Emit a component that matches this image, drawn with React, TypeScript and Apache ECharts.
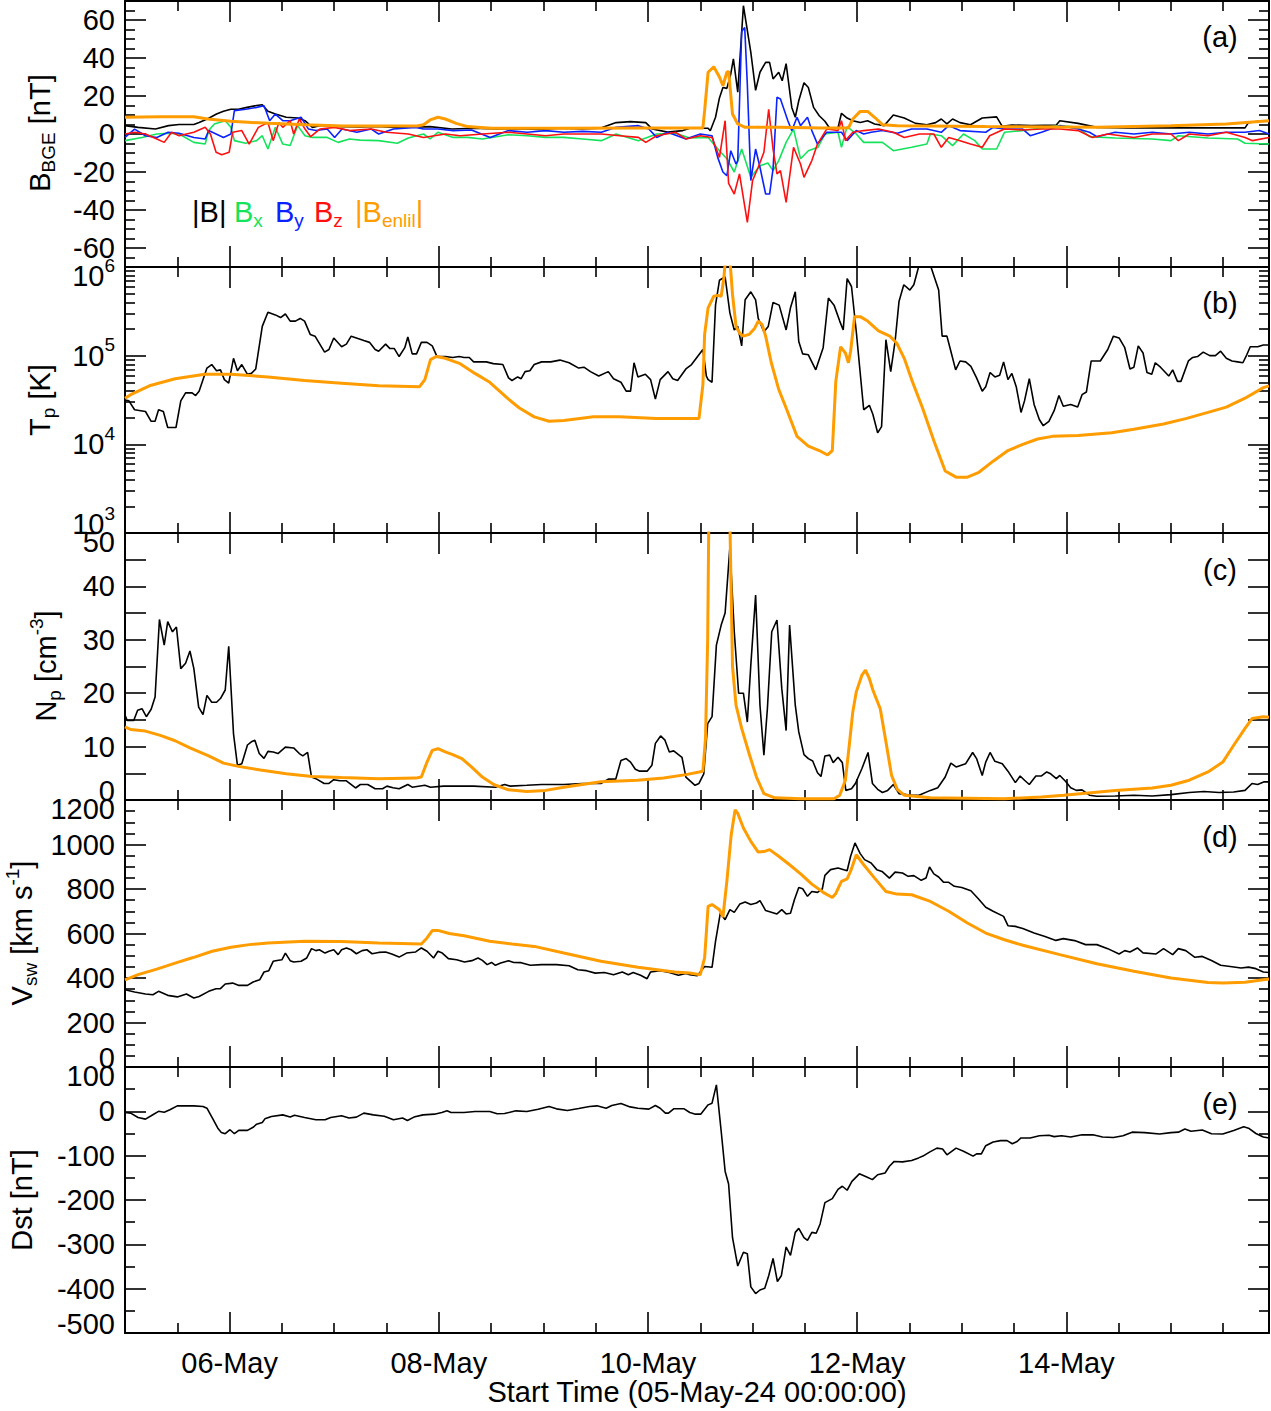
import React, { useEffect, useRef } from 'react';
import * as echarts from 'echarts';

const FONT = "'Liberation Sans', Arial, Helvetica, sans-serif";
const T_MAX = 262.5; // hours after 05-May-24 00:00

// ---- x axis ticks / labels (hours) ----
const dayMajorTicks = [24, 72, 120, 168, 216];
const dayLabels = ['06-May', '08-May', '10-May', '12-May', '14-May'];
const dayMinorTicks = [12, 36, 48, 60, 84, 96, 108, 132, 144, 156, 180, 192, 204, 228, 240, 252];

// ---- y axis ticks / labels ----
const bLabels = [-60, -40, -20, 0, 20, 40, 60];
const bMinor = [-65, -55, -50, -45, -35, -30, -25, -15, -10, -5, 5, 10, 15, 25, 30, 35, 45, 50, 55, 65];
const tExponents = [3, 4, 5, 6];
const tMinorFactors = [2, 3, 4, 5, 6, 7, 8, 9];
const nLabels = [0, 10, 20, 30, 40, 50];
const nTicks = [5, 10, 15, 20, 25, 30, 35, 40, 45];
const vLabels = [0, 200, 400, 600, 800, 1000, 1200];
const vMinor = [50, 100, 150, 250, 300, 350, 450, 500, 550, 650, 700, 750, 850, 900, 950, 1050, 1100, 1150];
const dstLabels = [-500, -400, -300, -200, -100, 0, 100];
const dstMinor = [-450, -350, -250, -150, -50, 50];

// ---- panel (a): magnetic field [nT], [hour, value] ----
const bTotal = [[0,4.4],[3,3.5],[7,2.6],[10,4.4],[12.4,5],[15.8,5],[17,6],[19,8],[21,10.5],[22.6,12],[24.3,13],[26,13],[28,14],[30.2,15],[31.5,15.4],[32.8,12],[34.5,10.5],[37,8.8],[39.6,8.4],[41.3,7],[43,3.5],[44.7,4.4],[46.4,4.4],[49.8,3.9],[54,3.7],[58,4],[62,3.5],[67,3.7],[70,3.9],[75,2.6],[80,3],[85,2.6],[90,2.8],[95,2.4],[100,3],[105,2.6],[109,3],[112.7,6],[116,6.5],[119.5,6],[121,2.6],[124.5,1],[128,1.8],[129.6,3],[132,3],[133.8,3],[134.3,1.7],[135.5,8.8],[136.4,19],[137.2,24.5],[138.1,24],[139,31.6],[139.6,39.5],[140.6,22],[141.9,67.5],[143.6,43],[144.7,23],[145.7,32.5],[147,37.7],[147.9,37.7],[148.7,29],[150,32.5],[150.8,28],[151.7,37],[153,14],[153.8,8.8],[154.6,17.5],[155.8,27],[156.8,24.5],[158,14],[159.3,9.6],[160.6,6.7],[161.7,3],[163.6,3.2],[164.4,10.9],[165.7,8.4],[167,7],[168.7,6],[170.4,7],[172,5.3],[174.2,4.4],[176.3,10],[178.8,8.4],[181.4,5.6],[184,4.9],[186,6],[187.3,7.9],[188.6,5.3],[189.9,7.9],[191.6,6],[194,4.9],[196.7,8.4],[200,9],[201.3,4],[203.5,4.7],[208,4.5],[213.7,4.7],[214.5,7],[218.7,5.6],[223,3.5],[230,3.2],[240,3.2],[250,3.2],[257,3.2],[257.8,6],[261,7],[262.5,7]];
const bX = [[0,-3.5],[3.9,-1.8],[7.3,0],[9.9,0.4],[12.4,0],[15.8,-4.4],[18.4,-5.3],[19.2,1.8],[20.5,5.3],[23,7],[24.3,3.5],[25.1,-3.5],[27.7,-4.9],[30.2,-3.5],[31.5,-0.9],[32.8,-7.9],[34.5,3.5],[36.2,-5.3],[37.9,-6.1],[39.6,4.4],[41.3,-0.9],[43,-1.8],[46.4,-1.8],[48.9,-4.4],[51.5,-2.6],[54,-3.2],[58.2,-3.5],[62.5,-4.9],[65,-2.1],[68.5,0],[70,-2.6],[71.8,0.9],[75.3,-1.8],[78.6,-1.8],[82,-2.6],[88,-0.4],[92.3,-0.9],[96.5,-1.8],[100.7,-1.8],[105,-2.6],[109.3,-3.5],[112.7,0],[117.8,-3.5],[122,0],[126.3,0.4],[129.6,-2.1],[133.8,-1.8],[136.4,-8.8],[138.1,-13],[139.8,-20],[141.5,-7.9],[143.6,-22.8],[145.7,-16.7],[147.5,-15.3],[148.7,-19.3],[150,-14],[151.7,-4.4],[153.4,2.6],[155,-13],[156.8,-8.8],[159,-7],[160.6,0],[163.6,0.9],[164.4,-7],[165.7,3.9],[167.8,0],[169.5,-4.4],[173.8,-4.4],[176.3,-8.8],[180.5,-7],[184,-5.3],[184.8,0],[187.3,-0.9],[189.9,-6.1],[192.4,0],[195,-3.5],[196.7,-7.9],[200,-7.9],[201.8,0.9],[206,1.8],[210.3,3.2],[214.5,4.4],[218.7,3.5],[221.3,-1.4],[227.2,-2.1],[235.7,-2.6],[240,-3.5],[241.7,-0.9],[248.5,-2.1],[255.3,-2.6],[257,-4.9],[262.5,-5.3]];
const bY = [[0,-1.8],[2.2,2.6],[4.7,-0.9],[7.3,-1.8],[9.9,0.9],[12.4,0.4],[15.8,-1.8],[18.4,-2.6],[19.2,1.8],[20.9,0],[22.6,-1.8],[24.3,0],[25.1,12.3],[27.7,13],[30.2,14],[31.9,14.9],[33.2,7],[34.5,10.5],[36.2,7],[37.9,7],[40.4,8.8],[42.1,2.6],[43.8,1.8],[46.4,2.6],[48.1,-1.8],[49.8,2.6],[53.2,0.9],[56.5,2.6],[58.2,0],[61.6,2.6],[66.7,3.5],[68.5,2.6],[71.8,2.6],[75.3,1.8],[79.5,2.1],[83.8,-1.8],[88,1.8],[92.3,0.9],[96.5,1.8],[100.7,0.9],[105,1.4],[109.3,0.9],[112.7,3.5],[117.8,4.4],[120.2,2.6],[122,-1.8],[124.5,0.9],[128.7,-2.6],[132,0],[134.7,-0.9],[136,-12.3],[137.2,-20],[138.1,-22],[139,-8.8],[140.2,-15.8],[140.6,-14],[141.5,54],[142.2,56],[142.8,26],[143.6,-24.5],[144.7,-7.9],[145.7,-17.5],[147,-31.6],[147.9,-31.6],[148.7,-18.4],[149.6,19.3],[150.4,18.4],[152.1,7],[153,1.8],[154.2,8.8],[155,4.4],[156.6,8.8],[157.6,1.8],[158.9,-5.3],[161,0.9],[164.4,0.9],[165.7,-3.5],[167.8,1.8],[169.5,0],[171.2,0.9],[173.8,1.8],[177.2,0.4],[180.5,2.6],[184,2.6],[187.3,0.9],[189,4.4],[191.6,1.8],[197.5,0.9],[199.2,3.5],[201.8,2.6],[206,2.6],[207.7,-0.9],[210.3,0.9],[214.5,4.4],[218.7,2.6],[221.3,0.9],[223,-1.4],[227.2,0.9],[231.5,0],[235.7,0.9],[240,0],[244.2,0.9],[248.5,0],[252.7,0.9],[257,0.9],[260.3,1.8],[262.5,0]];
const bZ = [[0,0],[2.2,0.9],[4.7,0],[7.3,-2.6],[9,-4.4],[10.7,0.9],[12.4,-0.9],[15.8,0.9],[18.4,3.5],[19.6,0],[20.9,-9.6],[22.2,-10.9],[23.9,-9.6],[24.7,0.9],[26.8,1.8],[28.5,-5.3],[30.6,3.5],[32.8,6],[34,-3.5],[35.3,6],[36.2,3.5],[37.9,7],[38.7,0],[40,7.9],[41.3,2.6],[42.6,-1.4],[44.7,2.6],[48.1,3.5],[51.5,1.8],[56.5,2.6],[60,0.9],[65,0],[68.5,-1.8],[73.5,0],[76.9,-0.9],[82,0],[88,0.9],[92.3,0],[96.5,-0.9],[100.7,0],[105,0],[109.3,0],[113.5,-0.9],[117.8,-1.8],[119.5,-4.4],[122,-0.9],[126.3,0.9],[128.7,-2.6],[132,-0.9],[134.7,-1.8],[136.4,-12.3],[137.7,7],[138.5,-26],[139.8,-31.6],[141,-21],[142.8,-46.5],[144,-24.5],[145.3,-17.5],[146.6,-9.6],[147.7,13],[148.7,-7.9],[149.6,-21],[150.4,-19.3],[151.7,-36],[153.4,-7],[155,-15.8],[155.8,-22.8],[157.6,-14],[158.9,-5.3],[161,2.6],[163.6,1.8],[164.4,7],[165.3,-3.5],[167,0.9],[169.5,1.8],[172.9,2.6],[176.3,0.9],[178.8,-1.8],[182.3,0],[185.6,0],[187.3,-7],[189,-1.8],[191.6,-3.5],[194,-5.3],[196.7,-7],[198.4,-0.9],[201.8,2.6],[206,2.1],[210.3,2.6],[214.5,2.6],[218.7,1.8],[222,-1.8],[225.5,0],[231.5,-1.8],[235.7,0],[240,0],[241.7,-3.5],[244.2,0],[248.5,-0.9],[252.7,0.9],[257,-1.8],[258.7,-3.5],[262.5,-1.8]];
const bEnlil = [[0,8.8],[8,9.1],[15.8,9.1],[19,7.9],[24.3,6.7],[33,5.6],[41.3,4.9],[50,4.2],[60,4.2],[67,4.2],[68.5,4.9],[70,7.4],[71.8,8.8],[73.5,7.9],[76,5.6],[78.6,3.9],[84,3],[100,3],[120,3.1],[132.6,3.2],[133,12.3],[133.8,32.5],[135.1,35.4],[136.4,30],[137.2,25.4],[138.1,32.5],[138.5,33],[139.4,10.5],[140.6,5.3],[142.3,3.5],[150,3.5],[160,3.2],[166,3.2],[167,7.9],[168.7,11.9],[170.4,11.9],[172,8.8],[173.8,4.9],[177.2,4.4],[197.5,3.9],[223,3.5],[240,4.4],[252.7,5.3],[262.5,7]];

// ---- panel (b): proton temperature, log10(T [K]) ----
const tpObsLog = [[0,4.5],[0.9,4.49],[2.2,4.39],[4.7,4.37],[6,4.26],[6.9,4.26],[7.7,4.39],[8.8,4.37],[9.8,4.19],[11.7,4.19],[12.8,4.49],[13.9,4.58],[15.4,4.58],[16.2,4.55],[17,4.6],[18.8,4.86],[19.9,4.9],[21,4.83],[21.9,4.84],[22.8,4.73],[23.8,4.69],[24.9,4.97],[25.8,4.83],[26.8,4.9],[28.1,4.79],[29,4.8],[30,4.85],[31.5,5.33],[32.8,5.49],[34.5,5.46],[35.7,5.43],[36.8,5.47],[37.9,5.39],[39.1,5.39],[40.2,5.42],[41.2,5.39],[42.5,5.24],[43.6,5.22],[45.8,5.04],[46.8,5.07],[47.9,5.2],[49.7,5.1],[50.8,5.13],[51.9,5.22],[53.1,5.2],[54.8,5.17],[56.1,5.15],[57.4,5.07],[58.2,5.05],[59.8,5.13],[60.8,5.08],[61.8,5.08],[62.9,4.99],[64.2,5.09],[64.9,5.21],[65.9,5.02],[66.9,5.02],[68,5.15],[69.3,5.15],[70.5,5.11],[71.6,4.99],[73.5,4.99],[75.2,4.98],[76.7,4.99],[77.8,4.98],[79,4.98],[80,4.93],[82.9,4.93],[84.5,4.91],[86.7,4.9],[88,4.75],[88.8,4.72],[90.1,4.76],[90.9,4.74],[91.8,4.82],[92.9,4.83],[93.9,4.9],[95.6,4.93],[97.7,4.93],[99.8,4.95],[101.9,4.92],[104.1,4.86],[105.3,4.87],[106.8,4.82],[108.7,4.77],[110.9,4.82],[112.1,4.74],[113.8,4.7],[115,4.6],[116,4.6],[116.8,4.92],[117.7,4.76],[119.4,4.79],[120.6,4.73],[121.7,4.51],[122.8,4.73],[124.6,4.82],[125.7,4.74],[126.8,4.72],[128.7,4.85],[130,4.9],[132.6,5.07],[133.4,4.77],[133.8,4.73],[134.7,4.7],[135.5,5.57],[136.4,5.85],[137.7,5.89],[138.8,5.48],[139.8,5.29],[140.6,5.33],[141.5,5.11],[142.3,5.63],[143.6,5.72],[144.7,5.63],[145.3,5.42],[146.6,5.27],[147.6,5.33],[148.7,5.6],[150.1,5.57],[151.7,5.29],[152.7,5.54],[153.8,5.72],[154.6,5.16],[155.5,5.02],[156.8,5.01],[158.5,4.84],[160.2,5.09],[161.4,5.65],[162.7,5.57],[164,5.39],[164.8,5.29],[165.7,5.87],[166.7,5.78],[167.8,5.27],[169.5,4.39],[170.8,4.44],[171.6,4.34],[172.7,4.13],[173.6,4.2],[174.6,5.18],[175.7,4.82],[176.7,5.16],[177.6,5.61],[178.7,5.8],[180.1,5.74],[181,5.8],[182.2,6.02],[184.8,6.02],[186.7,5.74],[187.5,5.22],[188.6,5.22],[189.5,5.05],[190.6,4.84],[191.6,4.94],[192.9,4.93],[194.1,4.88],[195.4,4.75],[196.7,4.6],[197.5,4.65],[198.5,4.81],[199.6,4.76],[200.7,4.78],[201.6,4.93],[202.6,4.73],[203.5,4.8],[204.5,4.65],[205.6,4.36],[206.4,4.49],[207.5,4.74],[208.6,4.45],[209.8,4.28],[210.7,4.21],[212,4.26],[213.2,4.38],[214.3,4.55],[215.3,4.43],[217,4.45],[218.6,4.42],[219.6,4.56],[220.6,4.59],[221.7,4.94],[223,4.94],[223.8,4.94],[225.5,5.07],[226.8,5.22],[228.1,5.2],[229.4,5.09],[230.6,4.85],[231.5,4.87],[232.5,5.11],[233.6,5.03],[234.5,4.81],[235.6,4.79],[236.4,4.92],[237.6,4.87],[239.5,4.77],[240.4,4.84],[241.5,4.71],[242.3,4.71],[244,4.94],[245,4.98],[246.1,4.99],[247.4,5.04],[248.9,5],[250.2,5],[251.4,5.05],[252.7,4.97],[254,4.94],[255.3,4.93],[256.5,4.92],[257.4,5.01],[258.2,5.1],[259.9,5.1],[261.2,5.12],[262.5,5.12]];
const tpEnlilLog = [[0,4.52],[1.3,4.56],[5.6,4.66],[11.5,4.74],[18.3,4.79],[24.3,4.79],[32.8,4.76],[41.2,4.72],[49.7,4.69],[58.2,4.66],[67.6,4.65],[68.8,4.73],[70.1,4.955],[71.4,4.99],[73.5,4.97],[76.9,4.91],[80.3,4.8],[83.7,4.7],[88,4.51],[90.5,4.41],[93.9,4.31],[97.3,4.26],[100.7,4.27],[107.5,4.31],[113.4,4.31],[121.9,4.29],[131.7,4.29],[132.6,4.67],[133,5.24],[133.8,5.54],[135.1,5.67],[136,5.68],[136.8,5.67],[137.4,5.87],[137.9,6.15],[138.7,6.15],[139.4,5.69],[140.2,5.33],[141.1,5.25],[141.9,5.22],[143.2,5.24],[144.5,5.31],[145.3,5.39],[146.2,5.35],[147,5.22],[148.3,4.92],[150,4.62],[151.7,4.41],[154.2,4.09],[156.8,3.98],[159.3,3.93],[161.2,3.88],[162.3,3.93],[163.1,4.71],[164.2,5.1],[165.3,5.03],[166,4.92],[166.5,5.05],[167.4,5.44],[168.7,5.44],[170.4,5.39],[172.9,5.28],[175.5,5.22],[177.1,5.14],[178.8,4.97],[180.5,4.73],[183,4.41],[185.6,4.04],[188.2,3.7],[190.7,3.63],[193.3,3.63],[195.8,3.68],[199.2,3.81],[202.6,3.93],[206,4],[209.4,4.06],[212.8,4.09],[218.7,4.1],[226.4,4.13],[231.5,4.17],[238.3,4.23],[243.4,4.29],[248.5,4.36],[252.7,4.42],[257,4.52],[261.2,4.64],[262.5,4.66]];

// ---- panel (c): proton density [cm^-3] ----
const npObs = [[0,15.9],[0.5,14.9],[2,14.9],[2.9,16.8],[3.9,17.1],[4.9,15.6],[6,17],[6.9,19.3],[7.9,33.8],[9,29],[9.8,33.4],[10.9,31.5],[11.8,32.4],[12.8,24.6],[13.9,25.6],[14.9,27.9],[15.8,24.6],[16.9,17.4],[17.9,16],[18.8,19.6],[19.9,18.3],[21,18.3],[21.9,19],[23,20.6],[23.8,28.8],[24.9,12.4],[25.8,6.5],[26.8,6.8],[28.1,10.3],[29,10.9],[29.8,11.2],[30.8,8.7],[31.9,7.8],[32.8,9.1],[34,9],[35.1,8.7],[36.8,9.9],[38.7,9.75],[40,8.7],[40.8,8.25],[41.9,8.9],[42.8,4.3],[43.8,4],[45.7,3.1],[46.8,3.1],[47.9,3.8],[49.3,3.6],[50.8,3.6],[52.9,2.25],[54,2.9],[55.7,2.9],[57.4,2.1],[59.1,2.1],[60.1,2.6],[61.5,2.3],[62.9,2.1],[64.9,2.9],[65.9,2.4],[68.8,2.75],[70.1,2.4],[73.1,2.6],[80,2.6],[85,2.4],[87.1,2.9],[88.4,2.6],[92.2,2.75],[95.6,2.9],[100.7,2.9],[104.9,3.1],[109.2,3.1],[110.9,3.9],[112.6,3.9],[113.8,7.4],[115,7.75],[116,7.1],[117.1,5.75],[118.1,5.4],[119.8,5.4],[120.9,6.5],[121.7,10.6],[122.9,12],[123.9,11.2],[124.9,9],[125.9,9.2],[127.8,8],[128.7,4.3],[130.8,2.75],[131.7,3.1],[132.8,4.9],[133.7,14.3],[134.7,15.6],[135.7,29],[136.8,32.75],[137.7,35],[138.8,47.4],[139.8,31.5],[140.8,20],[141.9,20],[142.8,14.6],[143.6,25.3],[144.7,38.4],[145.7,17.75],[146.6,8.4],[147.4,17.1],[148.4,31.5],[149.6,33.7],[150.7,20.9],[151.7,13],[152.5,32.75],[153.8,17.75],[154.6,12.75],[155.8,8.5],[156.8,7.75],[157.8,7.3],[158.9,5.1],[159.7,4.4],[160.6,8.25],[161.7,8.4],[162.5,7],[163.6,8],[164.6,7],[165.4,1.8],[166.7,2.1],[167.6,3.1],[169.1,5.9],[170.5,8.9],[171.5,3.1],[172.7,2],[173.8,1.4],[175,1.8],[176.3,2.9],[177.6,1.2],[180.5,0.9],[182.2,0.9],[184.8,1.8],[186.5,2.3],[188.2,4.3],[189.5,6.9],[190.7,6.2],[192.9,6.8],[194.5,8.9],[195.4,7.75],[196.7,4.6],[197.5,7.1],[198.5,8.9],[199.6,7.25],[201.3,6.8],[202.6,5.4],[204.3,3.25],[205.4,4.5],[206.4,3.7],[207.5,2.9],[209,4.5],[210.3,4.5],[211.5,5.25],[212.4,4.9],[213.7,4],[214.5,4.6],[215.8,3.5],[217,2.3],[218.3,1.8],[219.6,1.9],[221.3,0.9],[223,0.7],[227.2,0.75],[231.5,0.9],[235.7,0.75],[240,1],[244.2,1.4],[247.6,1.6],[251,1.4],[254.4,1.5],[257,1.8],[258.6,3.1],[259.9,2.9],[261.4,3.4],[262.5,3.4]];
const npEnlil = [[0,13.7],[1.3,13.2],[4.7,12.9],[8.1,12.1],[11.5,11.1],[14.9,9.75],[19.2,8.25],[22.6,6.9],[26,6.3],[31.1,5.6],[37,4.9],[42.9,4.4],[49.7,4.2],[58.2,4],[66.7,4.1],[68,4.3],[69.3,7.1],[70.5,9.3],[71.8,9.6],[73.5,9],[75.2,8.5],[77.3,7.75],[79.5,6.2],[82,4.3],[84.6,2.9],[88,1.9],[92.2,1.6],[96.5,1.8],[100.7,2.4],[104.9,2.9],[109.2,3.4],[117.6,3.7],[123.6,4.1],[128.7,4.75],[132.6,5.4],[133.2,11.5],[133.7,30],[134,56],[138.5,60],[138.8,52],[139.4,25],[140.2,17.75],[141.5,13.4],[143.2,8.7],[144.9,4.3],[146.6,1.2],[149.1,0.4],[155.1,0.25],[162.7,0.25],[164,0.9],[165.3,3.7],[166.1,9.6],[167,16.5],[167.8,20.25],[169.1,23.4],[169.9,24.3],[170.8,22.75],[171.6,20.6],[173.3,17.1],[174.6,10.9],[175.9,4.6],[177.2,2],[178.8,0.9],[184.8,0.4],[201.8,0.25],[210.3,0.55],[215.4,0.9],[227.2,1.8],[235.7,2.25],[240,2.75],[244.2,3.7],[248.5,5.25],[251.9,7.1],[254.4,10.25],[257,13.4],[258.6,15.25],[261.2,15.6],[262.5,15.5]];

// ---- panel (d): solar wind speed [km/s] ----
const vObs = [[0,347],[2.2,337],[4.7,328],[6.4,325],[7.7,340],[9.8,322],[12,315],[14.1,328],[15.8,310],[17,317],[19.2,340],[20.9,352],[21.9,352],[23,373],[24.7,377],[26,367],[28.1,367],[29.4,382],[30.9,392],[31.9,427],[33,433],[34,475],[34.9,479],[36,482],[36.8,512],[37.9,478],[38.7,472],[40.4,475],[41.7,490],[42.8,532],[43.8,523],[44.6,527],[45.9,512],[46.8,520],[47.9,527],[48.9,505],[49.7,527],[50.8,535],[51.9,527],[53.1,509],[54.4,523],[55.5,527],[56.7,509],[58.2,515],[59.8,517],[61.2,508],[62.9,494],[64.6,512],[66.7,517],[68,535],[69.3,520],[70.8,490],[71.8,520],[72.8,512],[74.2,487],[76.1,482],[77.9,472],[79.6,478],[81,490],[82,479],[83.1,460],[84.1,470],[85,457],[86.2,467],[88,478],[89.2,470],[90.9,469],[93,457],[95.6,460],[99,460],[101.9,455],[103.9,437],[105.9,433],[107.9,422],[110,425],[112.1,415],[114.1,427],[115.5,415],[116.6,425],[118.3,412],[119.8,397],[120.6,427],[122.8,433],[124.9,425],[127,412],[128.7,420],[129.6,415],[131.3,410],[133,452],[134.7,448],[135.5,565],[136.6,692],[137.7,662],[138.8,707],[139.8,695],[141.1,733],[142.3,742],[143.6,730],[144.9,737],[145.7,748],[147,703],[149.6,688],[150.7,707],[151.7,688],[152.7,691],[153.6,752],[154.6,807],[155.5,801],[156.6,767],[157.6,789],[158.9,785],[160,800],[160.6,861],[161.9,887],[163.6,894],[165.7,882],[166.5,947],[167.5,1007],[168.7,959],[169.7,932],[171.2,917],[172.5,887],[173.7,879],[175.4,849],[176.7,876],[178.4,872],[179.7,857],[181,860],[182.7,839],[183.8,849],[184.6,899],[185.6,868],[186.7,854],[187.8,831],[189,830],[190.3,812],[192,807],[194.1,792],[195.8,756],[197.5,718],[199.2,700],[201.6,677],[202.6,635],[204.3,632],[206,622],[208.6,602],[211.1,587],[213.6,569],[215.3,577],[217.9,568],[220.4,550],[223,550],[225.5,532],[228.1,508],[229.4,523],[230.6,517],[232.3,535],[233.6,513],[236.6,508],[238.3,532],[240.4,505],[241.7,532],[243.4,523],[245.5,493],[247.2,497],[249.3,479],[251.4,457],[253.6,452],[256.1,445],[257.8,449],[259.5,442],[261.2,427],[262.5,425]];
const vEnlil = [[0,392],[3,415],[7.3,440],[11.5,467],[15.8,493],[20,520],[24.3,538],[28.5,550],[32.8,557],[41.2,565],[49.7,564],[58.2,557],[63.3,555],[68,553],[69.3,580],[70.5,613],[71.8,614],[74.4,600],[77.8,590],[83.7,565],[88.8,553],[93.9,542],[100.7,512],[109.2,475],[117.7,448],[126.1,427],[129.6,422],[132,415],[133,490],[133.8,722],[134.7,730],[136.4,707],[137.2,674],[138.1,834],[139.1,1044],[140,1156],[140.6,1140],[141.9,1074],[143.6,1014],[145.3,966],[146.6,968],[147.9,977],[150,947],[152.5,909],[155.1,867],[157.6,822],[160.2,785],[162.3,762],[163.1,780],[164.4,834],[165.7,845],[166.5,880],[167.8,954],[169.5,909],[172,849],[174.6,789],[177.1,777],[180.5,774],[184.8,744],[189,700],[193.3,647],[197.5,602],[201.8,572],[206,547],[214.5,505],[223,464],[231.5,430],[240,400],[248.5,380],[251.9,377],[257,381],[261.2,392],[262.5,395]];

// ---- panel (e): Dst [nT] ----
const dstObs = [[0,-2.6],[1.3,-4],[3,-14],[4.7,-17.6],[6,-10],[7.7,0],[9,-2],[10.3,3.4],[12,12.4],[15.8,12.4],[17.9,11],[18.8,7],[20,-14],[21.3,-38],[22.1,-47.5],[23,-50.5],[24.1,-41.5],[25.1,-50.5],[26.1,-43],[28.1,-43],[29.4,-36],[30.2,-29],[31.5,-25],[32.1,-17],[33.6,-11.6],[36.2,-8],[37.9,-13],[38.9,-9],[41.2,-14],[43.8,-19],[45.9,-19],[47.2,-14],[49.7,-10],[51.4,-15],[53.1,-13],[54.8,-4],[57,-8],[59.5,-11],[61.6,-19],[63.7,-15],[64.8,-20.6],[66.3,-13],[68.4,-8],[71,-6.4],[72.7,-2.6],[73.9,1.1],[74.8,-2.6],[77.8,-2.6],[80.3,-0.4],[83.7,-0.4],[85.4,-5.6],[87.1,-4.9],[89.7,1.1],[92.2,-0.4],[94.8,4.9],[97.3,10.9],[99,5.6],[101.5,2],[104.1,6.5],[106.6,11],[108.3,12.4],[110.4,7],[111.7,13],[113.8,17.6],[115.9,10],[117.7,7],[120.2,5],[121.7,13],[122.8,7],[124,-4],[124.7,-4],[125.9,5.7],[128.3,5.7],[129.6,-2.6],[130.9,-6.4],[132.1,-6.4],[133.8,14.6],[134.7,18.4],[135.7,59.6],[136.8,-45],[137.7,-135],[138.5,-164],[139.4,-285],[140.6,-349],[141.9,-318],[142.8,-321],[143.6,-396],[144.7,-411],[145.7,-403],[146.8,-399],[147.7,-371],[148.7,-332],[149.7,-384],[150.6,-371],[151.7,-306],[152.7,-325],[153.8,-273],[154.6,-264],[155.8,-285],[156.6,-291],[157.6,-273],[158.6,-275],[159.5,-254],[160.6,-206],[162.3,-197],[163.6,-176],[164.6,-169],[165.7,-178],[166.8,-158],[168.5,-141],[170.2,-148],[171.5,-154],[172.7,-143],[174.4,-139],[175.4,-124],[176.5,-113],[178.4,-114],[180.5,-111],[182.1,-105],[183.1,-101],[184.6,-92],[186.3,-83],[187.6,-85],[188.6,-98],[190.7,-83],[192.4,-90],[194.6,-101],[195.4,-96],[196.5,-96],[197.5,-77.5],[199.2,-69],[200.9,-66],[202.4,-66],[203.6,-73],[204.7,-68],[205.6,-60],[207.7,-60],[209.8,-55],[212,-54],[213.2,-57],[214.9,-55],[217,-58],[219.6,-53],[222.1,-53],[224.3,-58],[226.8,-59],[229,-55],[231.1,-47],[234,-48],[237.4,-51],[240,-48],[241.7,-47],[243.2,-40],[244.6,-45],[247.2,-42],[249.3,-50.5],[251.9,-51],[254.4,-43],[256.7,-35],[257.8,-38],[259.5,-50],[261.2,-58],[262.5,-60]];

const BLACK = '#000000';
const ORANGE = '#ff9c00';
const GREEN = '#16e35c';
const BLUE = '#0a22ff';
const RED = '#ff1010';

const gridTops = [1, 267, 533, 800, 1067];
const gridHeights = [266, 266, 267, 267, 266];
const panelLetters = ['(a)', '(b)', '(c)', '(d)', '(e)'];
const letterY = [37, 303, 570, 837, 1104];

const baseText = { fontFamily: FONT, color: '#000', verticalAlign: 'middle' as const };
const yRich = {
  n: { ...baseText, fontSize: 29 },
  dn: { ...baseText, fontSize: 29, padding: [18, 0, 0, 0] },
  up: { ...baseText, fontSize: 29, padding: [0, 0, 18, 0] },
  sup: { ...baseText, fontSize: 19, padding: [0, 0, 22, 0] },
  supdn: { ...baseText, fontSize: 19, padding: [18, 0, 22, 0] },
  supup: { ...baseText, fontSize: 19, padding: [0, 0, 40, 0] },
};

function linFmt(min: number, max: number) {
  return (v: number) => `{${v === max ? 'dn' : v === min ? 'up' : 'n'}|${v}}`;
}
function logFmt(v: number) {
  const e = Math.round(v);
  const m = e === 6 ? 'dn' : e === 3 ? 'up' : 'n';
  const s = e === 6 ? 'supdn' : e === 3 ? 'supup' : 'sup';
  return `{${m}|10}{${s}|${e}}`;
}

const tMinor: number[] = [];
[3, 4, 5].forEach((n) => tMinorFactors.forEach((k) => tMinor.push(n + Math.log10(k))));

const panels = [
  { min: -70, max: 70, major: bLabels, minor: bMinor, labels: bLabels, fmt: linFmt(-70, 70) },
  { min: 3, max: 6, major: tExponents, minor: tMinor, labels: tExponents, fmt: logFmt },
  { min: 0, max: 50, major: nTicks, minor: [] as number[], labels: nLabels, fmt: linFmt(0, 50) },
  { min: 0, max: 1200, major: vLabels, minor: vMinor, labels: vLabels, fmt: linFmt(0, 1200) },
  { min: -500, max: 100, major: dstLabels, minor: dstMinor, labels: dstLabels, fmt: linFmt(-500, 100) },
];

const axisLine = { show: true, onZero: false, lineStyle: { color: '#000', width: 2 } };
const noLine = { show: false, onZero: false };
const tickLine = { color: '#000', width: 1.6 };

function xAxesFor(i: number) {
  const base = { type: 'value', gridIndex: i, min: 0, max: T_MAX, splitLine: { show: false } };
  const labelOn = i === 4;
  return [
    {
      ...base, position: 'bottom', axisLine,
      axisTick: { show: true, inside: true, length: 21, customValues: dayMajorTicks, lineStyle: tickLine },
      axisLabel: labelOn
        ? { show: true, customValues: dayMajorTicks, formatter: (v: number) => dayLabels[dayMajorTicks.indexOf(v)] ?? '', fontSize: 29, fontFamily: FONT, color: '#000', margin: 15 }
        : { show: false },
    },
    { ...base, position: 'bottom', axisLine: noLine, axisTick: { show: true, inside: true, length: 10, customValues: dayMinorTicks, lineStyle: tickLine }, axisLabel: { show: false } },
    { ...base, position: 'top', axisLine, axisTick: { show: true, inside: true, length: 21, customValues: dayMajorTicks, lineStyle: tickLine }, axisLabel: { show: false } },
    { ...base, position: 'top', axisLine: noLine, axisTick: { show: true, inside: true, length: 10, customValues: dayMinorTicks, lineStyle: tickLine }, axisLabel: { show: false } },
  ];
}

function yAxesFor(i: number) {
  const p = panels[i];
  const base = { type: 'value', gridIndex: i, min: p.min, max: p.max, splitLine: { show: false } };
  const minorTick = p.minor.length
    ? { show: true, inside: true, length: 10, customValues: p.minor, lineStyle: tickLine }
    : { show: false };
  return [
    {
      ...base, position: 'left', axisLine,
      axisTick: { show: true, inside: true, length: 21, customValues: p.major, lineStyle: tickLine },
      axisLabel: { show: true, customValues: p.labels, formatter: p.fmt, rich: yRich, fontSize: 29, fontFamily: FONT, color: '#000', margin: 10 },
    },
    { ...base, position: 'left', axisLine: noLine, axisTick: minorTick, axisLabel: { show: false } },
    { ...base, position: 'right', axisLine, axisTick: { show: true, inside: true, length: 21, customValues: p.major, lineStyle: tickLine }, axisLabel: { show: false } },
    { ...base, position: 'right', axisLine: noLine, axisTick: minorTick, axisLabel: { show: false } },
  ];
}

function line(i: number, data: number[][], color: string, width: number, z: number) {
  return {
    type: 'line', xAxisIndex: 4 * i, yAxisIndex: 4 * i, data,
    showSymbol: false, symbol: 'none', silent: true, clip: true, z,
    lineStyle: { color, width }, itemStyle: { color },
  };
}

const tRich = {
  m: { fontSize: 29, fontFamily: FONT, fill: '#000', verticalAlign: 'middle' },
  s: { fontSize: 19, fontFamily: FONT, fill: '#000', verticalAlign: 'middle', padding: [16, 0, 0, 0] },
  u: { fontSize: 19, fontFamily: FONT, fill: '#000', verticalAlign: 'middle', padding: [0, 0, 20, 0] },
};

function title(text: string, x: number, y: number) {
  return {
    type: 'text', x, y, rotation: Math.PI / 2, silent: true,
    style: { text, rich: tRich, fontSize: 29, fontFamily: FONT, fill: '#000', align: 'center', verticalAlign: 'middle' },
  };
}

function legendItem(text: string, x: number, color: string) {
  const r = {
    m: { fontSize: 29, fontFamily: FONT, fill: color, verticalAlign: 'middle' },
    s: { fontSize: 19, fontFamily: FONT, fill: color, verticalAlign: 'middle', padding: [16, 0, 0, 0] },
  };
  return {
    type: 'text', x, y: 212, silent: true,
    style: { text, rich: r, fontSize: 29, fontFamily: FONT, fill: color, align: 'left', verticalAlign: 'middle' },
  };
}

function buildOption() {
  const grids = gridTops.map((t, i) => ({ left: 125, width: 1144, top: t, height: gridHeights[i], outerBoundsMode: 'none', containLabel: false }));
  const xAxis: any[] = [];
  const yAxis: any[] = [];
  for (let i = 0; i < 5; i++) {
    xAxis.push(...xAxesFor(i));
    yAxis.push(...yAxesFor(i));
  }
  const tpObs = tpObsLog;
  const tpEnlil = tpEnlilLog;
  const series = [
    line(0, bTotal, BLACK, 1.6, 2),
    line(0, bX, GREEN, 1.6, 3),
    line(0, bY, BLUE, 1.6, 4),
    line(0, bZ, RED, 1.6, 5),
    line(0, bEnlil, ORANGE, 3, 6),
    line(1, tpObs, BLACK, 1.6, 2),
    line(1, tpEnlil, ORANGE, 3, 3),
    line(2, npObs, BLACK, 1.6, 2),
    line(2, npEnlil, ORANGE, 3, 3),
    line(3, vObs, BLACK, 1.6, 2),
    line(3, vEnlil, ORANGE, 3, 3),
    line(4, dstObs, BLACK, 1.6, 2),
  ];
  const elements: any[] = [
    title('{m|B}{s|BGE}{m| [nT]}', 40, 133),
    title('{m|T}{s|p}{m| [K]}', 40, 400),
    title('{m|N}{s|p}{m| [cm}{u|-3}{m|]}', 46, 666),
    title('{m|V}{s|sw}{m| [km s}{u|-1}{m|]}', 22, 933),
    title('{m|Dst [nT]}', 22, 1200),
    legendItem('{m||B|}', 192, BLACK),
    legendItem('{m|B}{s|x}', 234, GREEN),
    legendItem('{m|B}{s|y}', 275, BLUE),
    legendItem('{m|B}{s|z}', 314, RED),
    legendItem('{m||B}{s|enlil}{m||}', 355, ORANGE),
    {
      type: 'text', x: 697, y: 1392, silent: true,
      style: { text: 'Start Time (05-May-24 00:00:00)', fontSize: 29, fontFamily: FONT, fill: '#000', align: 'center', verticalAlign: 'middle' },
    },
    ...panelLetters.map((t, i) => ({
      type: 'text', x: 1220, y: letterY[i], silent: true,
      style: { text: t, fontSize: 29, fontFamily: FONT, fill: '#000', align: 'center', verticalAlign: 'middle' },
    })),
  ];
  return {
    animation: false,
    backgroundColor: '#ffffff',
    textStyle: { fontFamily: FONT },
    grid: grids,
    xAxis,
    yAxis,
    series,
    graphic: { elements },
  };
}

export default function App() {
  const ref = useRef<HTMLDivElement>(null);
  useEffect(() => {
    if (!ref.current) return;
    const chart = echarts.init(ref.current, null, { renderer: 'svg' });
    chart.setOption(buildOption() as any);
    return () => chart.dispose();
  }, []);
  return (
    <div
      ref={ref}
      style={{ position: 'absolute', left: 0, top: 0, width: 1271, height: 1411, background: '#fff' }}
    />
  );
}
